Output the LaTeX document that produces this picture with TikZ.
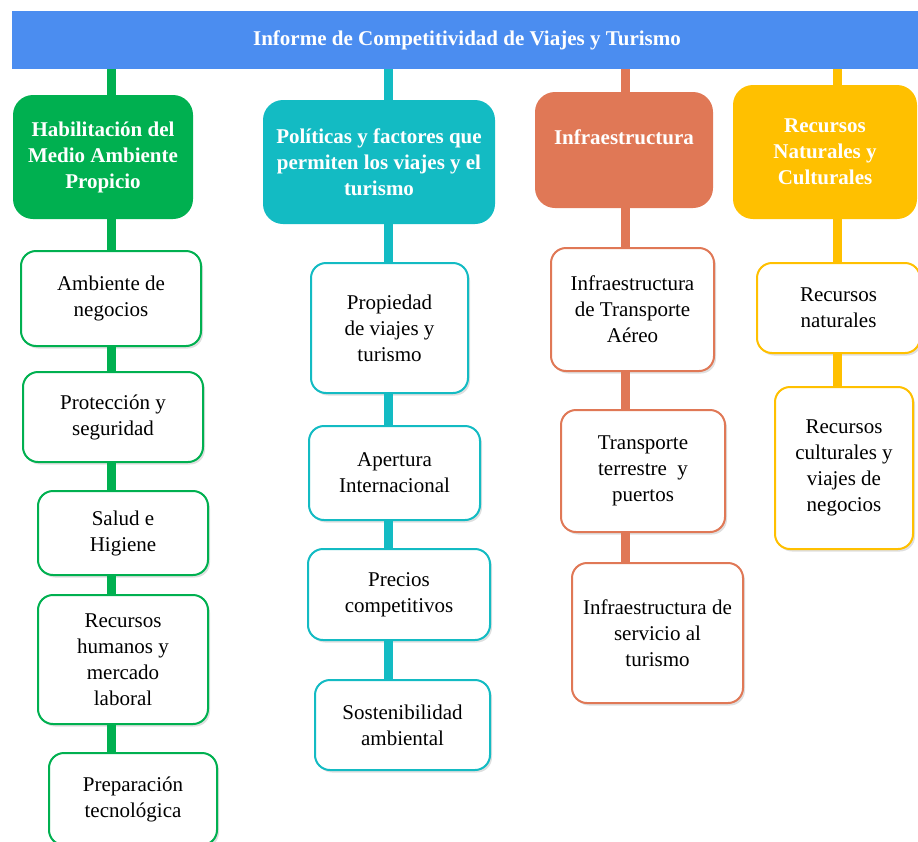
\documentclass[tikz,border=0pt]{standalone}
\usepackage{fontspec}
\setmainfont{Liberation Serif}
\usepackage{xcolor}
\usepackage{tikz}
\usetikzlibrary{positioning,shadows}

\definecolor{barblue}{HTML}{4B8DF0}
\definecolor{pgreen}{HTML}{00B050}
\definecolor{pteal}{HTML}{13BBC3}
\definecolor{porange}{HTML}{E07856}
\definecolor{pyellow}{HTML}{FFC000}

\begin{document}
\begin{tikzpicture}[x=1pt,y=-1pt,
  head/.style={rounded corners=20pt, fill=#1, text=white, align=center,
    font=\fontsize{21}{26}\selectfont\bfseries, inner sep=2pt},
  item/.style={rounded corners=15pt, draw=#1, line width=2pt, fill=white, align=center,
    font=\fontsize{21}{26}\selectfont, inner sep=2pt,
    drop shadow={shadow xshift=2pt, shadow yshift=-2.5pt, opacity=.25}},
  link/.style={draw=#1, line width=9pt}]
\useasboundingbox (0,0) rectangle (918,841);

% Title bar
\node[fill=barblue, text=white, font=\fontsize{21}{26}\selectfont\bfseries,
  minimum width=910pt, minimum height=58pt, inner sep=0pt] (bar) at (467,40)
  {Informe de Competitividad de Viajes y Turismo};

% Column axes
\coordinate (cg) at (111,0);
\coordinate (ct) at (388,0);
\coordinate (co) at (625,0);
\coordinate (cy) at (837,0);

% Green column
\node[head=pgreen, minimum width=180pt, minimum height=124pt] (hab) at (103,157)
  {Habilitación del\\Medio Ambiente\\Propicio};
\node[item=pgreen, minimum width=180pt, minimum height=95pt] (amb) at (111,298.5)
  {Ambiente de\\negocios};
\node[item=pgreen, minimum width=180pt, minimum height=90pt] (prot) at (113,417)
  {Protección y\\seguridad};
\node[item=pgreen, minimum width=170pt, minimum height=84pt] (salud) at (123,533)
  {Salud e\\Higiene};
\node[item=pgreen, minimum width=170pt, minimum height=129pt] (rrhh) at (123,659.5)
  {Recursos\\humanos y\\mercado\\laboral};
\node[item=pgreen, minimum width=168pt, minimum height=92pt] (tec) at (133,799)
  {Preparación\\tecnológica};

% Teal column
\node[head=pteal, minimum width=232pt, minimum height=124pt] (pol) at (379,162)
  {Políticas y factores que\\permiten los viajes y el\\turismo};
\node[item=pteal, minimum width=157pt, minimum height=130pt] (prop) at (389.5,328)
  {Propiedad\\de viajes y\\turismo};
\node[item=pteal, minimum width=171pt, minimum height=94pt] (aper) at (394.5,473)
  {Apertura\\Internacional};
\node[item=pteal, minimum width=182pt, minimum height=91pt] (prec) at (399,594.5)
  {Precios\\competitivos};
\node[item=pteal, minimum width=175pt, minimum height=90pt] (sost) at (402.5,725)
  {Sostenibilidad\\ambiental};

% Orange column
\node[head=porange, minimum width=178pt, minimum height=116pt] (infra) at (624,150)
  {Infraestructura\\ \mbox{}};
\node[item=porange, minimum width=163pt, minimum height=123pt] (aereo) at (632.5,309.5)
  {Infraestructura\\de Transporte\\Aéreo};
\node[item=porange, minimum width=164pt, minimum height=122pt] (terr) at (643,471)
  {Transporte\\terrestre~ y\\puertos};
\node[item=porange, minimum width=171pt, minimum height=140pt] (serv) at (657.5,633)
  {Infraestructura de\\servicio al\\turismo};

% Yellow column
\node[head=pyellow, minimum width=184pt, minimum height=134pt] (recn) at (825,152)
  {Recursos\\Naturales y\\Culturales};
\node[item=pyellow, minimum width=163pt, minimum height=90pt] (nat) at (838.5,308)
  {Recursos\\naturales};
\node[item=pyellow, minimum width=138pt, minimum height=162pt] (cult) at (844,468)
  {Recursos\\culturales y\\viajes de\\negocios};

% Links
\draw[link=pgreen] (bar.south -| cg) -- (hab.north -| cg);
\draw[link=pgreen] (hab.south -| cg) -- (amb.north -| cg);
\draw[link=pgreen] (amb.south -| cg) -- (prot.north -| cg);
\draw[link=pgreen] (prot.south -| cg) -- (salud.north -| cg);
\draw[link=pgreen] (salud.south -| cg) -- (rrhh.north -| cg);
\draw[link=pgreen] (rrhh.south -| cg) -- (tec.north -| cg);

\draw[link=pteal] (bar.south -| ct) -- (pol.north -| ct);
\draw[link=pteal] (pol.south -| ct) -- (prop.north -| ct);
\draw[link=pteal] (prop.south -| ct) -- (aper.north -| ct);
\draw[link=pteal] (aper.south -| ct) -- (prec.north -| ct);
\draw[link=pteal] (prec.south -| ct) -- (sost.north -| ct);

\draw[link=porange] (bar.south -| co) -- (infra.north -| co);
\draw[link=porange] (infra.south -| co) -- (aereo.north -| co);
\draw[link=porange] (aereo.south -| co) -- (terr.north -| co);
\draw[link=porange] (terr.south -| co) -- (serv.north -| co);

\draw[link=pyellow] (bar.south -| cy) -- (recn.north -| cy);
\draw[link=pyellow] (recn.south -| cy) -- (nat.north -| cy);
\draw[link=pyellow] (nat.south -| cy) -- (cult.north -| cy);
\end{tikzpicture}
\end{document}
